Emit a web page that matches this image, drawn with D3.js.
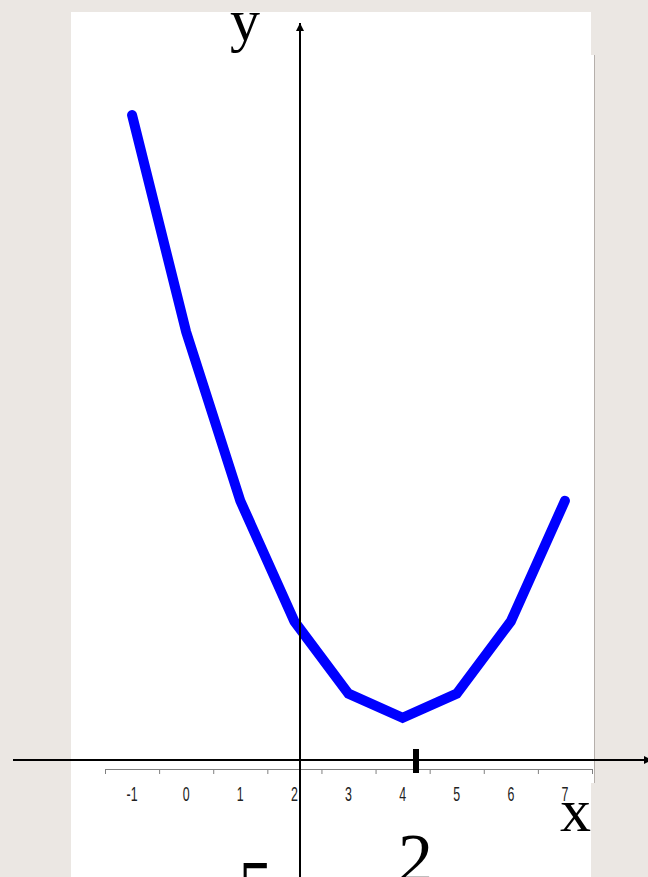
<!DOCTYPE html>
<html>
<head>
<meta charset="utf-8">
<script src="https://cdn.jsdelivr.net/npm/d3@7"></script>
<style>
  html, body { margin: 0; padding: 0; background: #ebe7e3; }
  svg { display: block; }
</style>
</head>
<body>
<div id="chart"></div>
<script>
// Data
const xValues = [-1, 0, 1, 2, 3, 4, 5, 6, 7];
const yValues = [27, 18, 11, 6, 3, 2, 3, 6, 11];
const tickLabels = ["-1", "0", "1", "2", "3", "4", "5", "6", "7"];

const W = 648, H = 877;

const svg = d3.select("#chart").append("svg")
    .attr("width", W)
    .attr("height", H);

// Slide background + white panel
svg.append("rect").attr("width", W).attr("height", H).attr("fill", "#ebe7e3");
svg.append("rect")
    .attr("x", 71).attr("y", 12)
    .attr("width", 520).attr("height", H - 12)
    .attr("fill", "#fff");
// chart object area (slightly wider, grey right edge)
svg.append("rect")
    .attr("x", 71).attr("y", 55)
    .attr("width", 523).attr("height", 728)
    .attr("fill", "#fff");
svg.append("line")
    .attr("x1", 594.5).attr("x2", 594.5)
    .attr("y1", 55).attr("y2", 783)
    .attr("stroke", "#b5afab").attr("stroke-width", 1);

// Scales
const x = d3.scaleBand()
    .domain(xValues)
    .range([105, 592])
    .padding(0);

const y = d3.scaleLinear()
    .domain([0, 27])
    .range([766, 115]);

// Category axis (Excel style: ticks between categories, labels centred)
const axisY = 769;
const gAxis = svg.append("g").attr("transform", `translate(0,${axisY})`);
gAxis.call(d3.axisBottom(x).tickSize(0).tickPadding(18).tickFormat((d, i) => tickLabels[i]))
    .call(g => g.select(".domain").attr("stroke", "#808080"))
    .call(g => g.selectAll("text")
        .attr("font-family", "'Liberation Sans', Arial, sans-serif")
        .attr("font-size", 20)
        .attr("transform", "scale(0.62,1)")
        .attr("fill", "#222"));

const bounds = xValues.map(v => x(v)).concat([x.range()[1]]);
gAxis.selectAll("line.bound")
    .data(bounds)
    .join("line")
    .attr("class", "bound")
    .attr("x1", d => d + 0.5).attr("x2", d => d + 0.5)
    .attr("y1", 0).attr("y2", 5)
    .attr("stroke", "#808080");

// Blue curve
const line = d3.line()
    .x((d, i) => x(xValues[i]) + x.bandwidth() / 2)
    .y(d => y(d));

svg.append("path")
    .datum(yValues)
    .attr("d", line)
    .attr("fill", "none")
    .attr("stroke", "#0000ff")
    .attr("stroke-width", 10)
    .attr("stroke-linecap", "round")
    .attr("stroke-linejoin", "miter");

// Drawn coordinate axes with arrows
svg.append("defs").append("marker")
    .attr("id", "arrow")
    .attr("viewBox", "0 0 10 10")
    .attr("refX", 10).attr("refY", 5)
    .attr("markerWidth", 4).attr("markerHeight", 4)
    .attr("orient", "auto-start-reverse")
    .append("path")
    .attr("d", "M0,0L10,5L0,10Z")
    .attr("fill", "#000");

svg.append("line")
    .attr("x1", 13).attr("x2", 652)
    .attr("y1", 760).attr("y2", 760)
    .attr("stroke", "#000").attr("stroke-width", 2)
    .attr("marker-end", "url(#arrow)");

svg.append("line")
    .attr("x1", 300).attr("x2", 300)
    .attr("y1", H).attr("y2", 23)
    .attr("stroke", "#000").attr("stroke-width", 2)
    .attr("marker-end", "url(#arrow)");

// short thick mark on the x axis
svg.append("rect")
    .attr("x", 413).attr("y", 749)
    .attr("width", 6).attr("height", 24)
    .attr("fill", "#000");

// Labels
const serif = "'Liberation Serif', 'Times New Roman', serif";
svg.append("text").text("y")
    .attr("x", 230).attr("y", 40)
    .attr("font-family", serif).attr("font-size", 60);
svg.append("text").text("x")
    .attr("x", 560).attr("y", 831)
    .attr("font-family", serif).attr("font-size", 62);
svg.append("text").text("5")
    .attr("x", 238).attr("y", 909)
    .attr("font-family", serif).attr("font-size", 70);
svg.append("text").text("2")
    .attr("x", 398).attr("y", 882)
    .attr("font-family", serif).attr("font-size", 70);
</script>
</body>
</html>
